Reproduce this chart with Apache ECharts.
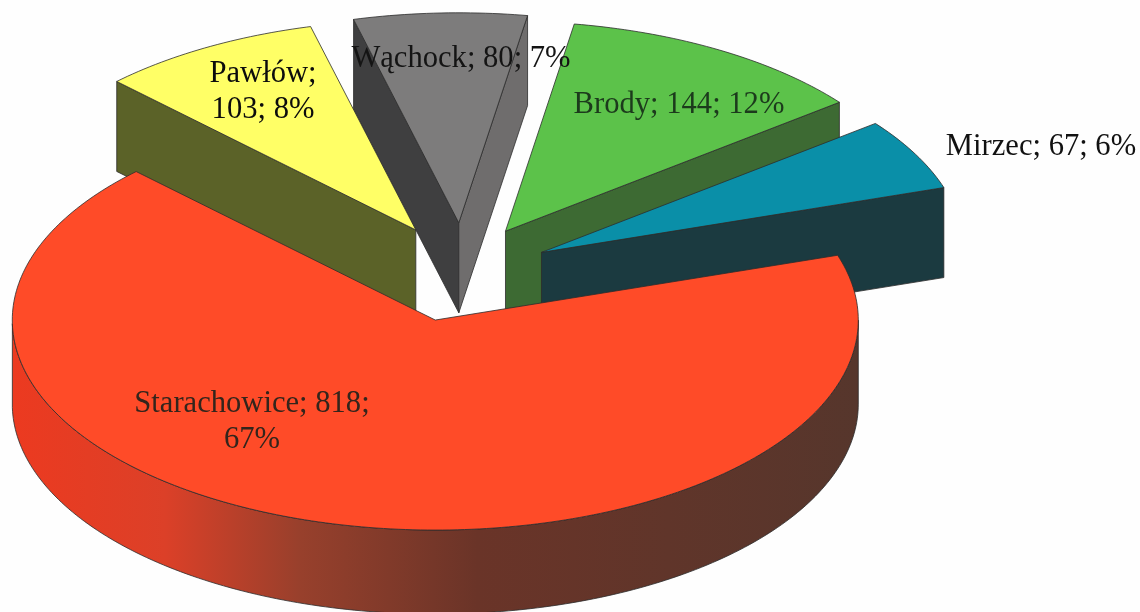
<!DOCTYPE html>
<html><head><meta charset="utf-8">
<style>html,body{margin:0;padding:0;background:#fefefe}#c{width:1140px;height:612px}</style>
<script src="https://cdn.jsdelivr.net/npm/echarts@6/dist/echarts.min.js"></script>
</head><body><div id="c"></div>
<script>
// ---- data (clockwise from the upper-left cut) ----
const categories = ['Pawłów', 'Wąchock', 'Brody', 'Mirzec', 'Starachowice'];
const values = [103, 80, 144, 67, 818];
const percents = [8, 7, 12, 6, 67];
// ---- styling ----
const topColors = ['#ffff66', '#7d7c7c', '#5cc24a', '#0a8fa8', '#ff4b28'];
const leftFaceColors = ['#5b6228', '#3f3f40', '#3d6a33', '#1b3a40', '#e8351f'];
const rightFaceColors = ['#5b6228', '#6f6d6d', '#3d6a33', '#1b3a40', '#5a3228'];
const textColors = ['#0c0c0c', '#141414', '#1c3a1c', '#111', '#33251c'];
const labelBreaks = [1, 0, 0, 0, 2];
// ---- layout ----
const explode = [0.225, 0.225, 0.215, 0.21, 0.25];
const nudges = [[3, 3], [3, 2], [-1, 2], [3, 5], [0, 1]];
const depths = [90, 90, 90, 90, 84];
const labelAnchors = [[263, 92], [461, 59], [679, 105], [1041, 147], [252, 422]];
const pie = {cx: 460, cy: 268, rx: 423, ry: 210, startDeg: 135};
const fontSize = 30.6;

const total = values.reduce((a, b) => a + b, 0);
const RAD = Math.PI / 180;
function labelText(i) {
  const p = [categories[i] + ';', values[i] + ';', percents[i] + '%'];
  if (labelBreaks[i] === 1) return p[0] + '\n' + p[1] + ' ' + p[2];
  if (labelBreaks[i] === 2) return p[0] + ' ' + p[1] + '\n' + p[2];
  return p.join(' ');
}
function renderItem(params, api) {
  const i = params.dataIndex;
  let before = 0;
  for (let k = 0; k < i; k++) before += values[k];
  const a0 = pie.startDeg - before / total * 360;
  const a1 = a0 - api.value(0) / total * 360;
  const mid = (a0 + a1) / 2 * RAD;
  const depth = depths[i];
  const ax = pie.cx + explode[i] * pie.rx * Math.cos(mid) + nudges[i][0];
  const ay = pie.cy - explode[i] * pie.ry * Math.sin(mid) + nudges[i][1];
  const pt = a => [ax + pie.rx * Math.cos(a * RAD), ay - pie.ry * Math.sin(a * RAD)];
  const down = p => [p[0], p[1] + depth];
  const arc = [];
  for (let a = a0; a >= a1 - 1e-6; a -= 1) arc.push(pt(a));
  arc.push(pt(a1));
  const stroke = {stroke: '#2c2c2c', lineWidth: 0.8};
  const kids = [];
  const face = (points, fill, z2) => kids.push({type: 'polygon', z2: z2,
    shape: {points}, style: Object.assign({fill}, stroke)});
  // cut faces that look toward the viewer
  if (Math.cos(a0 * RAD) < 0) {
    const e = pt(a0);
    face([[ax, ay], e, down(e), [ax, ay + depth]], leftFaceColors[i], 1);
  }
  if (Math.cos(a1 * RAD) > 0) {
    const e = pt(a1);
    face([[ax, ay], e, down(e), [ax, ay + depth]], rightFaceColors[i], 1);
  }
  // outer wall: the front half of the rim
  const front = arc.filter((p) => p[1] >= ay - 1e-6);
  if (front.length > 1 && values[i] / total > 0.5) {
    front.sort((p, q) => p[0] - q[0]);
    const wall = front.concat(front.slice().reverse().map(down));
    kids.push({type: 'polygon', z2: 1, shape: {points: wall},
      style: Object.assign({
        fill: {type: 'linear', x: 0, y: 0, x2: 1, y2: 0, colorStops: [
          {offset: 0, color: '#ec3a20'},
          {offset: 0.18, color: '#dc4028'},
          {offset: 0.34, color: '#98402c'},
          {offset: 0.55, color: '#6a3428'},
          {offset: 1, color: '#56362c'}
        ]}
      }, stroke)});
  }
  face([[ax, ay]].concat(arc), topColors[i], 2);
  kids.push({type: 'text', z2: 100, style: {
    text: labelText(i), x: labelAnchors[i][0], y: labelAnchors[i][1],
    align: 'center', verticalAlign: 'middle',
    font: fontSize + 'px "Liberation Serif"', lineHeight: 36, fill: textColors[i]
  }});
  return {type: 'group', children: kids};
}
const chart = echarts.init(document.getElementById('c'), null, {renderer: 'canvas'});
chart.setOption({
  animation: false,
  backgroundColor: '#fefefe',
  series: [{
    type: 'custom',
    coordinateSystem: 'none',
    renderItem: renderItem,
    encode: {value: 0},
    data: values.map((v, i) => ({name: categories[i], value: [v]}))
  }]
});
</script></body></html>
